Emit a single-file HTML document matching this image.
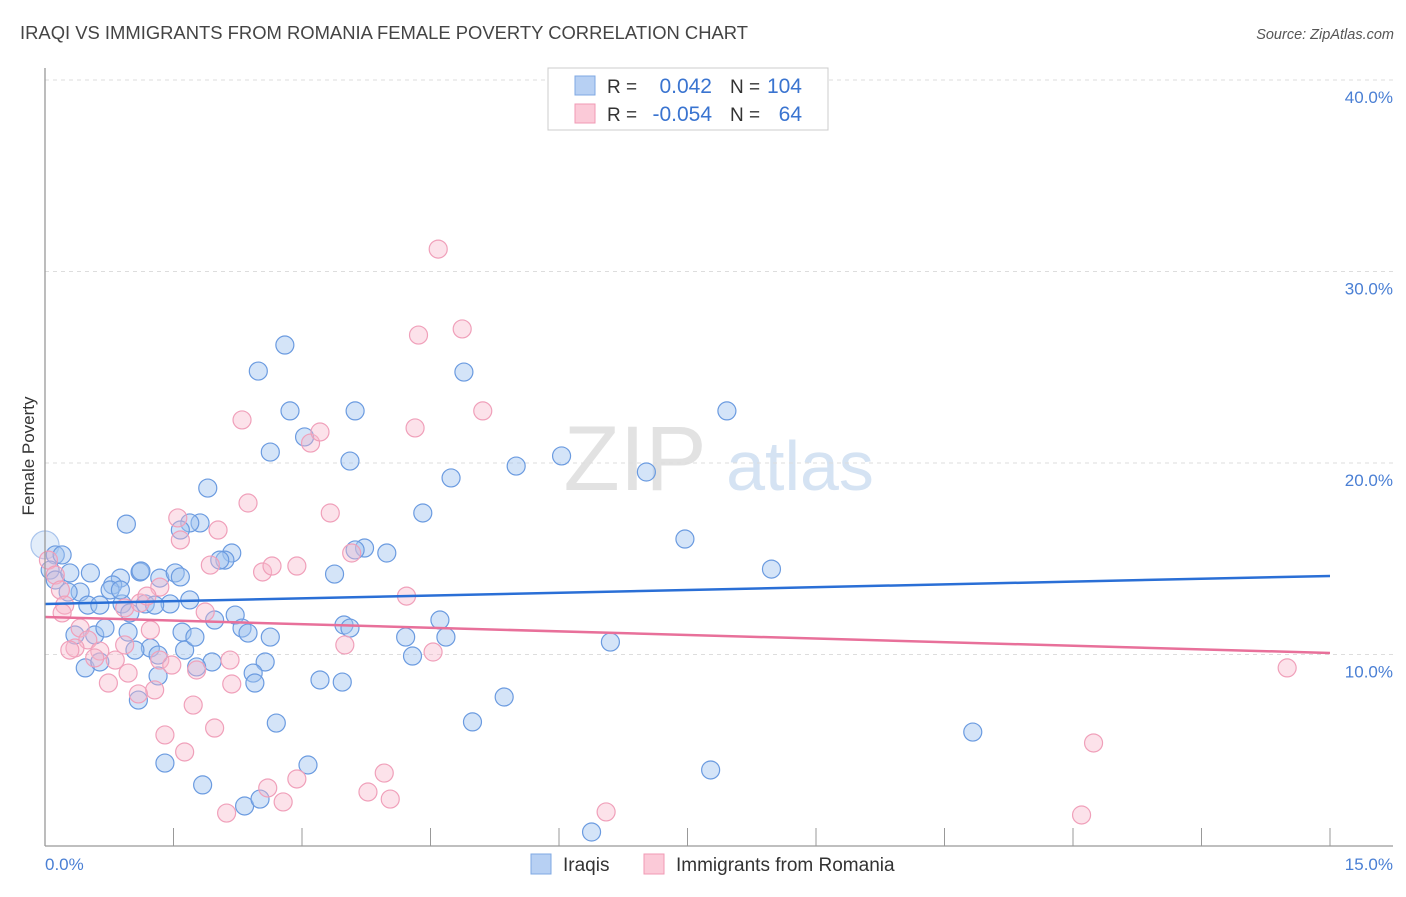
<!DOCTYPE html>
<html><head><meta charset="utf-8"><style>
body{margin:0;background:#fff;font-family:"Liberation Sans",sans-serif;}
svg text{font-family:"Liberation Sans",sans-serif;}
</style></head><body>
<svg id="chart" width="1406" height="892" xmlns="http://www.w3.org/2000/svg">
<text x="20" y="39" font-size="18" fill="#444" textLength="728" lengthAdjust="spacingAndGlyphs">IRAQI VS IMMIGRANTS FROM ROMANIA FEMALE POVERTY CORRELATION CHART</text>
<text x="1394" y="39" font-size="14.5" fill="#555" font-style="italic" text-anchor="end">Source: ZipAtlas.com</text>
<text transform="translate(34,456) rotate(-90)" font-size="17" fill="#333" text-anchor="middle">Female Poverty</text>
<g>
<text x="635" y="490" font-size="92" fill="#e2e2e2" font-family="Liberation Serif" text-anchor="middle">ZIP</text>
<text x="800" y="490" font-size="70" fill="#d5e3f3" text-anchor="middle">atlas</text>
</g>
<g id="grid"></g><g id="pts"></g><g id="lines"></g>
<line x1="45" y1="68" x2="45" y2="846" stroke="#999" stroke-width="1.3"/>
<line x1="45" y1="846" x2="1393" y2="846" stroke="#999" stroke-width="1.3"/>
<text x="45" y="870" font-size="17" fill="#4a7fd4">0.0%</text>
<text x="1393" y="870" font-size="17" fill="#4a7fd4" text-anchor="end">15.0%</text>
<g>
<rect x="548" y="68" width="280" height="62" fill="#fff" stroke="#ccc"/>
<rect x="575" y="76" width="20" height="19" fill="#b7d0f3" stroke="#7fa8e3"/>
<rect x="575" y="104" width="20" height="19" fill="#fbcad8" stroke="#f09ab4"/>
<text x="607" y="93" font-size="19" fill="#333">R =</text><text x="712" y="93" font-size="21" fill="#3a74d0" text-anchor="end">0.042</text>
<text x="730" y="93" font-size="19" fill="#333">N =</text><text x="802" y="93" font-size="21" fill="#3a74d0" text-anchor="end">104</text>
<text x="607" y="121" font-size="19" fill="#333">R =</text><text x="712" y="121" font-size="21" fill="#3a74d0" text-anchor="end">-0.054</text>
<text x="730" y="121" font-size="19" fill="#333">N =</text><text x="802" y="121" font-size="21" fill="#3a74d0" text-anchor="end">64</text>
</g>
<g>
<rect x="531" y="854" width="20" height="20" fill="#b7d0f3" stroke="#7fa8e3"/>
<text x="563" y="871" font-size="19" fill="#333">Iraqis</text>
<rect x="644" y="854" width="20" height="20" fill="#fbcad8" stroke="#f09ab4"/>
<text x="676" y="871" font-size="19" fill="#333">Immigrants from Romania</text>
</g>
</svg>
<script>
const yTicks=[10,20,30,40];
const yTickLabels=["10.0%","20.0%","30.0%","40.0%"];
const xTicks=[0,1.5,3,4.5,6,7.5,9,10.5,12,13.5,15];
const blueX=[0,.12,.20,.06,.12,.29,.53,.88,1.11,1.34,1.52,.79,.41,.27,.76,.50,.64,.90,1.17,1.46,1.69,.99,.35,.58,.70,.97,1.23,1.05,1.32,1.63,1.60,1.75,1.98,2.22,2.30,2.37,2.63,2.57,2.43,2.45,1.95,1.77,.47,.64,1.32,1.09,1.40,1.84,2.33,2.51,2.70,3.07,3.21,3.47,3.49,3.56,3.38,3.73,3.62,3.99,2.18,2.10,2.04,1.81,1.69,1.58,.95,1.90,2.63,3.03,2.86,2.49,2.80,3.62,3.56,4.41,4.74,5.50,6.03,7.02,7.96,4.89,7.47,8.48,4.61,4.21,4.68,4.29,4.99,5.36,6.60,6.38,7.77,10.83,1.12,.88,1.58,1.28];
const blueY=[15.72,15.20,15.20,14.41,13.89,14.26,14.26,13.99,14.31,13.99,14.26,13.63,13.26,13.26,13.37,12.58,12.58,12.64,12.64,12.64,12.85,12.17,11.02,11.02,11.38,11.17,10.34,10.23,9.97,10.23,11.17,10.91,11.80,12.06,11.38,11.12,10.91,9.61,9.03,8.51,9.61,9.35,9.30,9.61,8.88,7.62,4.33,3.19,2.09,2.45,6.42,4.23,8.67,8.56,11.54,11.38,14.20,15.56,15.46,15.30,15.30,14.93,14.93,16.87,16.87,16.50,16.81,18.69,20.57,21.36,22.72,24.80,26.16,22.72,20.10,17.39,19.22,19.84,20.37,19.53,22.72,24.75,16.03,14.46,11.80,10.91,10.91,9.92,6.48,7.78,10.65,0.73,3.97,5.95,14.36,13.37,14.05,12.58];
const pinkX=[.04,.12,.18,.23,.20,.41,.50,.35,.29,.64,.82,.58,.74,.97,.93,1.23,1.34,1.28,1.09,1.48,1.40,1.63,1.73,1.77,1.98,2.12,2.18,2.16,1.87,1.93,2.02,1.58,1.55,2.30,2.37,2.54,2.65,2.60,2.78,2.94,2.94,3.10,3.21,3.33,3.50,3.58,3.77,3.96,4.03,4.22,4.32,4.36,4.53,4.59,4.87,5.11,.93,1.11,1.34,1.19,6.55,12.10,12.24,14.50];
const pinkY=[14.93,14.15,13.37,12.58,12.17,11.38,10.76,10.34,10.23,10.18,9.71,9.82,8.51,9.03,10.50,11.28,9.71,8.15,7.94,9.45,5.80,4.91,7.36,9.19,6.16,1.72,8.46,9.71,12.22,14.67,16.50,15.98,17.13,22.25,17.91,14.31,14.62,3.03,2.30,14.62,3.50,21.04,21.62,17.39,10.50,15.30,2.82,3.81,2.45,13.05,21.83,26.68,10.13,31.17,27.00,22.72,12.43,12.69,13.52,13.05,1.78,1.62,5.38,9.30];
const blueTrend=[12.64,14.10];
const pinkTrend=[11.96,10.08];
const NS="http://www.w3.org/2000/svg";
const sx=v=>45+v*(1330-45)/15;
const sy=v=>846-v*19.15;
function mk(tag,attrs,parent){const e=document.createElementNS(NS,tag);for(const k in attrs)e.setAttribute(k,attrs[k]);document.getElementById(parent).appendChild(e);return e;}
yTicks.forEach((t,i)=>{
  const l=mk('line',{x1:45,x2:1393,y1:sy(t),y2:sy(t),stroke:'#ddd','stroke-dasharray':'4,4'},'grid');
  
  
  const tx=mk('text',{x:1393,y:sy(t)+23,'font-size':17,fill:'#4a7fd4','text-anchor':'end'},'grid');
  tx.textContent=yTickLabels[i];
  
  
});
xTicks.forEach(t=>{
  const l=mk('line',{x1:sx(t),x2:sx(t),y1:828,y2:846,stroke:'#999'},'grid');
  
  
});
blueX.forEach((x,i)=>{
  const c=mk('circle',{cx:sx(x),cy:sy(blueY[i]),r:i==0?14:9,fill:i==0?'rgba(160,196,240,0.3)':'rgba(160,196,240,0.45)',stroke:i==0?'#a9c4ec':'#6b9be0','stroke-width':1.2},'pts');
  
  
});
pinkX.forEach((x,i)=>{
  const c=mk('circle',{cx:sx(x),cy:sy(pinkY[i]),r:9,fill:'rgba(248,182,202,0.4)',stroke:'#f0a0ba','stroke-width':1.2},'pts');
  
  
});
const bl=mk('line',{x1:sx(0),y1:sy(blueTrend[0]),x2:sx(15),y2:sy(blueTrend[1]),stroke:'#2a6fd6','stroke-width':2.5},'lines');


const pl=mk('line',{x1:sx(0),y1:sy(pinkTrend[0]),x2:sx(15),y2:sy(pinkTrend[1]),stroke:'#e8709a','stroke-width':2.5},'lines');


</script>
</body></html>
